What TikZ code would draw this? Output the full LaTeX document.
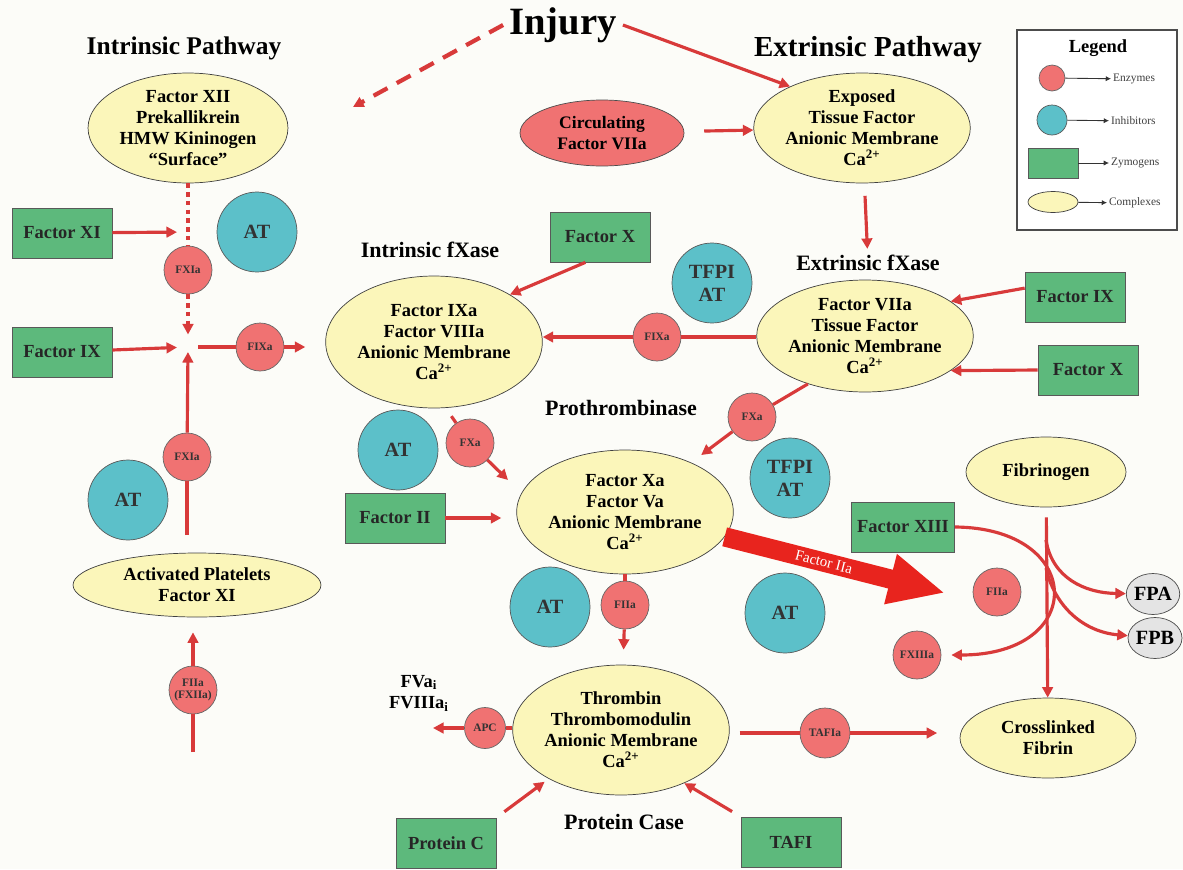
\documentclass[tikz,border=0pt]{standalone}
\usepackage{fontspec}
\setmainfont{Liberation Serif}
\usetikzlibrary{shapes.geometric,arrows.meta,positioning}

\definecolor{enzred}{HTML}{F07272}
\definecolor{inhcyan}{HTML}{5CC0C9}
\definecolor{zymgreen}{HTML}{5DB97C}
\definecolor{cplxyel}{HTML}{FBF6BA}
\definecolor{flowred}{HTML}{D83A3A}
\definecolor{bigred}{HTML}{E8241E}
\definecolor{fpgray}{HTML}{E4E4E4}
\definecolor{bgpaper}{HTML}{FCFCF8}

\tikzset{
  complex/.style={ellipse, draw=black!75, fill=cplxyel, align=center, inner sep=0pt, font=\fontsize{10.5}{12}\selectfont\bfseries},
  enzyme/.style={circle, draw=black!60, fill=enzred, minimum size=0.96cm, inner sep=0pt, align=center, font=\fontsize{6.5}{7}\selectfont\bfseries, text=black!80},
  inhib/.style={circle, draw=black!65, fill=inhcyan, minimum size=1.6cm, inner sep=0pt, align=center, font=\fontsize{11.5}{13}\selectfont\bfseries, text=black!80},
  zymo/.style={rectangle, draw=black!65, fill=zymgreen, minimum width=2cm, minimum height=1cm, font=\fontsize{10.5}{12}\selectfont\bfseries, text=black!85},
  heading/.style={font=\fontsize{12.5}{14}\selectfont\bfseries},
  feed/.style={draw=flowred, line width=1.8pt},
  flow/.style={feed, -{Triangle[length=6pt,width=6pt]}},
  dotflow/.style={draw=flowred, line width=2.2pt, dash pattern=on 2.5pt off 2.5pt},
  legtext/.style={anchor=west, inner sep=1pt, font=\fontsize{6.5}{7}\selectfont, text=black!75},
  legarr/.style={draw=black!80, line width=0.5pt, -{Latex[length=3pt,width=3pt]}},
}

\begin{document}
\begin{tikzpicture}[x=0.02cm, y=-0.02cm]
  \fill[bgpaper] (0,0) rectangle (1183,869);
  \useasboundingbox (0,0) rectangle (1183,869);

  \node (injury) [font=\fontsize{22}{26}\selectfont\bfseries] at (563,25) {Injury};
  \node (tintr) [font=\fontsize{14.5}{17}\selectfont\bfseries] at (184,48) {Intrinsic Pathway};
  \node (textr) [font=\fontsize{16.5}{19}\selectfont\bfseries] at (868,50) {Extrinsic Pathway};

  \node (intr) [complex, minimum width=4cm, minimum height=2.2cm] at (188,128) {Factor XII\\Prekallikrein\\HMW Kininogen\\``Surface''};
  \node (circ) [ellipse, draw=black!70, fill=enzred, align=center, inner sep=0pt, minimum width=3.28cm, minimum height=1.32cm, font=\fontsize{10}{12}\selectfont\bfseries] at (602,133) {Circulating\\Factor VIIa};
  \node (expo) [complex, minimum width=3.8cm, minimum height=2.2cm] at (862,128) {Exposed\\Tissue Factor\\Anionic Membrane\\Ca\textsuperscript{2+}};

  \node (textf) [heading] at (868,263) {Extrinsic fXase};
  \node (extf) [complex, minimum width=4cm, minimum height=2.24cm] at (865,336) {Factor VIIa\\Tissue Factor\\Anionic Membrane\\Ca\textsuperscript{2+}};
  \node (tintf) [heading] at (430,250) {Intrinsic fXase};
  \node (intf) [complex, minimum width=3.64cm, minimum height=2.64cm] at (434,342) {Factor IXa\\Factor VIIIa\\Anionic Membrane\\Ca\textsuperscript{2+}};
  \node (tpro) [heading] at (621,408) {Prothrombinase};
  \node (pro) [complex, minimum width=3.8cm, minimum height=2.48cm] at (625,512) {Factor Xa\\Factor Va\\Anionic Membrane\\Ca\textsuperscript{2+}};
  \node (thr) [complex, minimum width=3.96cm, minimum height=2.6cm] at (621,730) {Thrombin\\Thrombomodulin\\Anionic Membrane\\Ca\textsuperscript{2+}};
  \node (tpc) [heading] at (624,822) {Protein Case};
  \node (plat) [complex, minimum width=4.96cm, minimum height=1.28cm] at (197,585) {Activated Platelets\\Factor XI};
  \node (fbg) [complex, minimum width=3.2cm, minimum height=1.4cm] at (1046,472) {Fibrinogen};
  \node (xfib) [complex, minimum width=3.52cm, minimum height=1.6cm] at (1048,738) {Crosslinked\\Fibrin};

  \node (fXI) [zymo] at (62,233) {Factor XI};
  \node (fIXl) [zymo] at (62,352) {Factor IX};
  \node (fXt) [zymo] at (600,237) {Factor X};
  \node (fIXr) [zymo] at (1075,297) {Factor IX};
  \node (fXr) [zymo] at (1088,370) {Factor X};
  \node (fII) [zymo] at (395,518) {Factor II};
  \node (fXIII) [zymo] at (903,527) {Factor XIII};
  \node (protC) [zymo] at (446,843) {Protein C};
  \node (tafi) [zymo] at (791,842) {TAFI};

  \node (at1) [inhib] at (257,232) {AT};
  \node (at2) [inhib] at (128,500) {AT};
  \node (tfpi1) [inhib] at (712,283) {TFPI\\AT};
  \node (at3) [inhib] at (398,450) {AT};
  \node (tfpi2) [inhib] at (790,478) {TFPI\\AT};
  \node (at4) [inhib] at (550,607) {AT};
  \node (at5) [inhib] at (785,613) {AT};

  \node (fxia1) [enzyme] at (188,270) {FXIa};
  \node (fixa1) [enzyme] at (260,347) {FIXa};
  \node (fxia2) [enzyme] at (187,457) {FXIa};
  \node (fiia1) [enzyme] at (193,690) {FIIa\\(FXIIa)};
  \node (fixa2) [enzyme] at (657,337) {FIXa};
  \node (fxa1) [enzyme] at (470,443) {FXa};
  \node (fxa2) [enzyme] at (752,417) {FXa};
  \node (fiia2) [enzyme] at (625,605) {FIIa};
  \node (apc) [enzyme, minimum size=0.82cm] at (485,728) {APC};
  \node (tafia) [enzyme, minimum size=1cm] at (825,733) {TAFIa};
  \node (fiia3) [enzyme] at (997,592) {FIIa};
  \node (fxiiia) [enzyme] at (917,655) {FXIIIa};

  \node (fpa) [ellipse, draw=black!70, fill=fpgray, inner sep=0pt, minimum width=1cm, minimum height=0.82cm, font=\fontsize{11.5}{13}\selectfont\bfseries] at (1153,594) {FPA};
  \node (fpb) [ellipse, draw=black!70, fill=fpgray, inner sep=0pt, minimum width=1cm, minimum height=0.82cm, font=\fontsize{11.5}{13}\selectfont\bfseries] at (1155,638) {FPB};
  \node (tfv) [align=center, font=\fontsize{10.5}{12}\selectfont\bfseries] at (419,693) {FVa\textsubscript{i}\\FVIIIa\textsubscript{i}};

  \coordinate (dashend) at (353,107);
  \draw[flow, dash pattern=on 9pt off 6pt, line width=2.4pt] (injury.west) -- (dashend);
  \draw[flow] (injury.east) -- (expo.150);
  \draw[flow, shorten <=0.4cm] (circ) -- (expo);
  \draw[flow, shorten <=0.25cm] (expo) -- (textf);
  \draw[flow] (fIXr.170) -- (extf.22);
  \draw[flow] (fXr.west) -- (extf.-22);
  \draw[flow] (fXt.-120) -- (intf.32);
  \draw[feed] (extf.west |- fixa2) -- (fixa2);
  \draw[flow] (fixa2) -- (fixa2 -| intf.east);

  \coordinate (jxi) at (188,232);
  \coordinate (jix) at (188,347);
  \draw[flow, shorten >=0.22cm] (fXI) -- (jxi);
  \draw[dotflow] (intr) -- (fxia1);
  \draw[dotflow, -{Triangle[length=6pt,width=6pt]}, shorten >=0.25cm] (fxia1) -- (jix);
  \draw[flow, shorten >=0.22cm] (fIXl) -- (jix);
  \draw[feed, shorten <=0.2cm] (jix) -- (fixa1);
  \draw[flow, shorten >=0.4cm] (fixa1) -- (fixa1 -| intf.west);
  \draw[feed, shorten <=0.35cm] (plat.north -| fxia2) -- (fxia2);
  \draw[flow, shorten >=0.1cm] (fxia2) -- (jix);
  \coordinate (fiiabot) at (193,752);
  \draw[feed] (fiiabot) -- (fiia1);
  \draw[flow, shorten >=0.3cm] (fiia1) -- (plat.south -| fiia1);

  \coordinate (fxaend) at (508,480);
  \draw[feed, shorten <=0.2cm] (intf.-80) -- (fxa1);
  \draw[flow] (fxa1) -- (fxaend);
  \draw[flow, shorten >=0.3cm] (fII) -- (fII -| pro.west);
  \draw[feed] (extf.-140) -- (fxa2);
  \draw[flow, shorten >=0.25cm] (fxa2) -- (pro);
  \draw[feed] (pro) -- (fiia2);
  \draw[flow, shorten >=0.3cm] (fiia2) -- (thr);
  \coordinate (apcend) at (433,728);
  \draw[feed] (thr.west |- apc) -- (apc);
  \draw[flow] (apc) -- (apcend);
  \draw[flow, shorten <=0.2cm, shorten >=0.1cm] (protC.north east) -- (thr.-146);
  \draw[flow, shorten <=0.2cm] (tafi.north west) -- (thr.-40);
  \draw[feed, shorten <=0.2cm] (thr.east |- tafia) -- (tafia);
  \draw[flow, shorten >=0.45cm] (tafia) -- (tafia -| xfib.west);

  \coordinate (bigtip) at (945,593);
  \draw[bigred, line width=11pt, -{Triangle[length=32pt,width=27pt]}] (pro.-14) -- (bigtip) node[pos=0.45, sloped, text=white, font=\fontsize{8.5}{10}\selectfont] {Factor IIa};

  \coordinate (fpastart) at (1046,540);
  \coordinate (fpbstart) at (1046,568);
  \draw[flow, shorten <=0.2cm] (fbg) -- (xfib);
  \draw[flow] (fpastart) .. controls (1052,578) and (1085,593) .. (fpa);
  \draw[flow] (fpbstart) .. controls (1055,608) and (1085,632) .. (fpb);
  \draw[flow, shorten >=0.2cm] (fXIII.east) .. controls (1085,528) and (1088,655) .. (fxiiia);

  \node (legbox) [draw=black!70, line width=0.9pt, fill=white, minimum width=3.2cm, minimum height=4cm] at (1097,130) {};
  \node (tleg) [font=\fontsize{10.5}{12}\selectfont\bfseries] at (1098,48) {Legend};
  \node (lenz) [enzyme, minimum size=0.52cm] at (1052,78) {};
  \node (linh) [inhib, minimum size=0.6cm] at (1052,120) {};
  \node (lzym) [zymo, minimum width=1cm, minimum height=0.6cm] at (1053,163) {};
  \node (lcpx) [complex, minimum width=1cm, minimum height=0.42cm] at (1053,202) {};
  \node (tenz) [legtext] at (1111,79) {Enzymes};
  \node (tinh) [legtext] at (1109,121) {Inhibitors};
  \node (tzym) [legtext] at (1109,163) {Zymogens};
  \node (tcpx) [legtext] at (1107,203) {Complexes};
  \draw[legarr] (lenz) -- (tenz);
  \draw[legarr] (linh) -- (tinh);
  \draw[legarr] (lzym) -- (tzym);
  \draw[legarr] (lcpx) -- (tcpx);
\end{tikzpicture}
\end{document}
